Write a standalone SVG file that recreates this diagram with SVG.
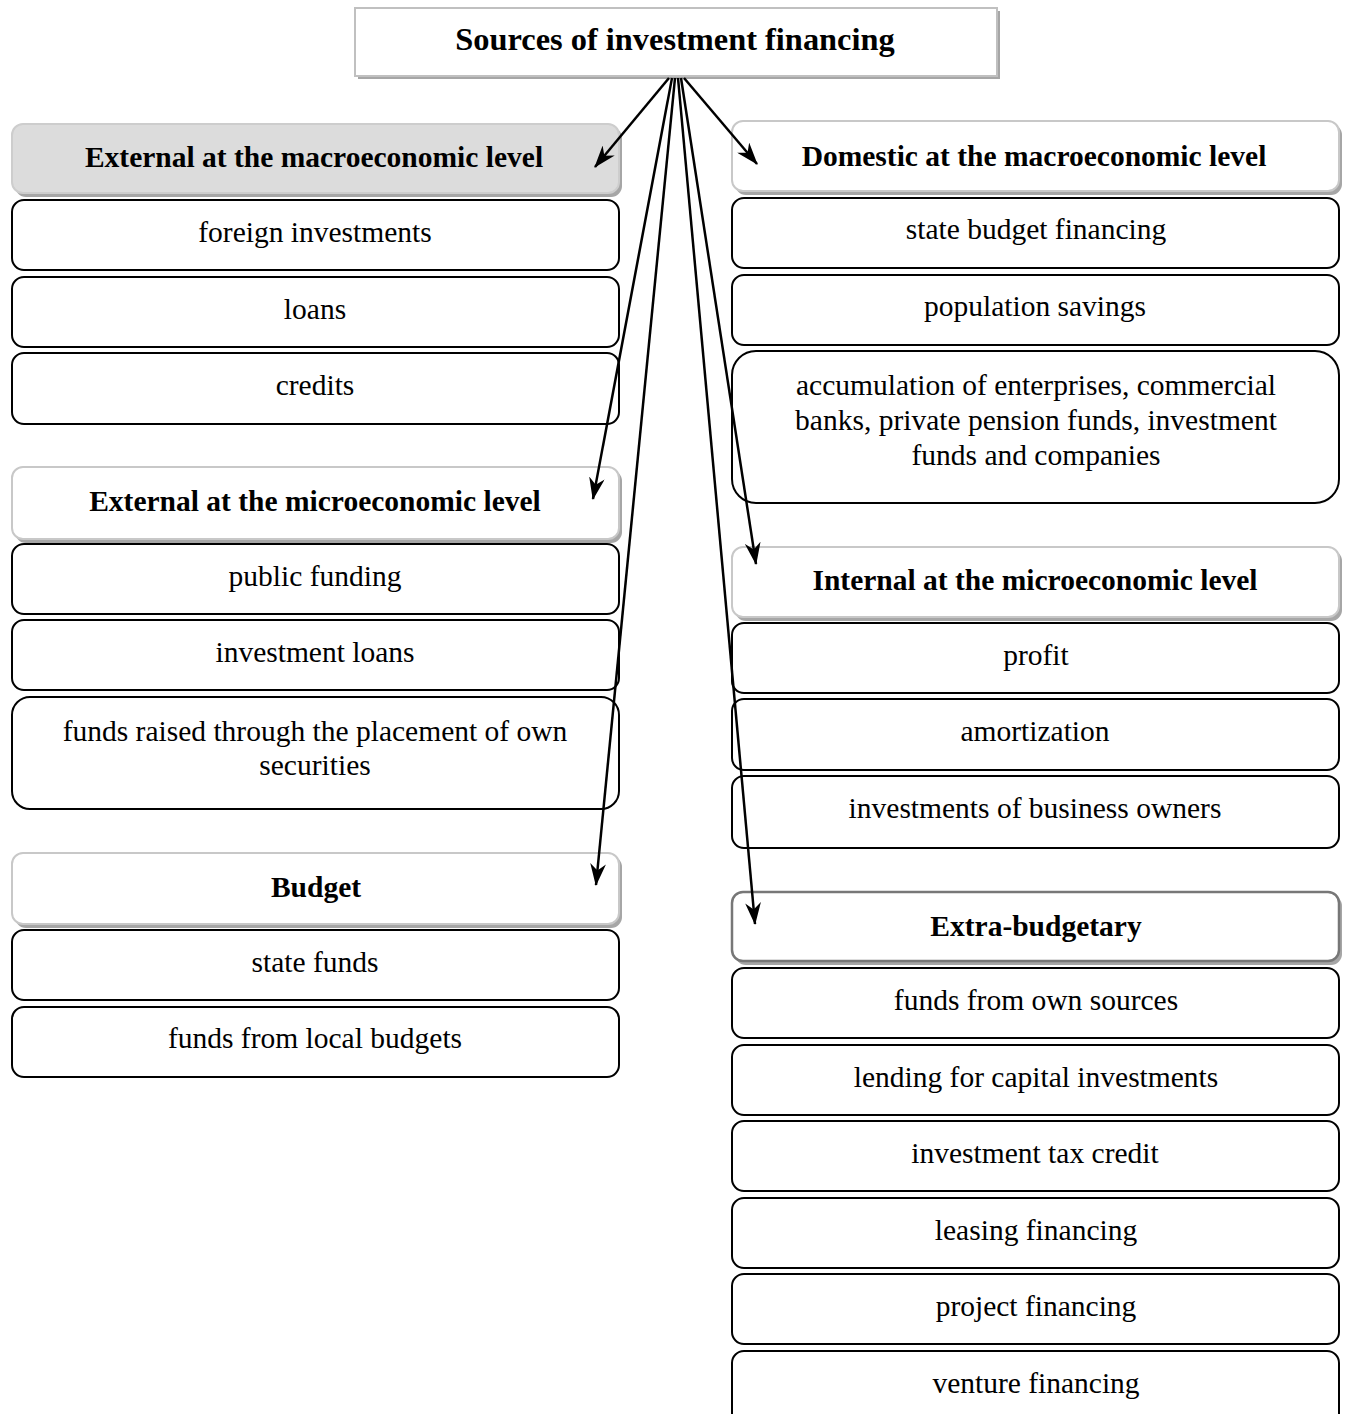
<svg xmlns="http://www.w3.org/2000/svg" width="1345" height="1414" viewBox="0 0 1345 1414">
<style>
text{font-family:"Liberation Serif","Times New Roman",serif;fill:#000;text-anchor:middle}
.it{font-size:29.5px}
.hd{font-size:29.5px;font-weight:bold}
.ttl{font-size:32.4px;font-weight:bold}
.box{fill:#fff;stroke:#000;stroke-width:2}
.hbox{fill:#fff;stroke:#c8c8c8;stroke-width:2}
.gbox{fill:#dcdcdc;stroke:#cdcdcd;stroke-width:2}
.dbox{fill:#fff;stroke:#777;stroke-width:2.5}
.sh{fill:#a6a6a6}
.con{stroke:#000;stroke-width:2.5;fill:none;marker-end:url(#ah)}
</style>
<defs>
<marker id="ah" viewBox="0 0 20 14" refX="19" refY="7" markerWidth="9" markerHeight="6.3" orient="auto" markerUnits="strokeWidth">
<path d="M0,0 L20,7 L0,14 L6,7 Z" fill="#000"/>
</marker>
</defs>
<rect width="1345" height="1414" fill="#fff"/>

<g id="root">
<rect x="358" y="11" width="642" height="68" fill="#a6a6a6"/>
<rect x="355" y="8" width="642" height="68" fill="#fff" stroke="#c0c0c0" stroke-width="2"/>
<text class="ttl" x="675" y="50">Sources of investment financing</text>
</g>

<g id="ext-macro">
<rect class="sh" x="15" y="127" width="607" height="70" rx="11"/>
<rect class="gbox" x="12" y="124" width="607" height="69" rx="11"/>
<text class="hd" x="314" y="167">External at the macroeconomic level</text>
</g>
<g id="foreign-investments"><rect class="box" x="12" y="200" width="607" height="70" rx="12"/><text class="it" x="315" y="242">foreign investments</text></g>
<g id="loans"><rect class="box" x="12" y="277" width="607" height="70" rx="12"/><text class="it" x="315" y="319">loans</text></g>
<g id="credits"><rect class="box" x="12" y="353" width="607" height="71" rx="12"/><text class="it" x="315" y="395">credits</text></g>

<g id="ext-micro">
<rect class="sh" x="15" y="470" width="607" height="73" rx="11"/>
<rect class="hbox" x="12" y="467" width="607" height="72" rx="11"/>
<text class="hd" x="315" y="511">External at the microeconomic level</text>
</g>
<g id="public-funding"><rect class="box" x="12" y="544" width="607" height="70" rx="12"/><text class="it" x="315" y="586">public funding</text></g>
<g id="investment-loans"><rect class="box" x="12" y="620" width="607" height="70" rx="12"/><text class="it" x="315" y="662">investment loans</text></g>
<g id="funds-raised"><rect class="box" x="12" y="697" width="607" height="112" rx="18"/><text class="it" x="315" y="741">funds raised through the placement of own</text><text class="it" x="315" y="775">securities</text></g>

<g id="budget">
<rect class="sh" x="15" y="856" width="607" height="72" rx="11"/>
<rect class="hbox" x="12" y="853" width="607" height="71" rx="11"/>
<text class="hd" x="316" y="897">Budget</text>
</g>
<g id="state-funds"><rect class="box" x="12" y="930" width="607" height="70" rx="12"/><text class="it" x="315" y="972">state funds</text></g>
<g id="local-budgets"><rect class="box" x="12" y="1007" width="607" height="70" rx="12"/><text class="it" x="315" y="1048">funds from local budgets</text></g>

<g id="dom-macro">
<rect class="sh" x="735" y="124" width="607" height="71" rx="11"/>
<rect class="hbox" x="732" y="121" width="607" height="70" rx="11"/>
<text class="hd" x="1034" y="166">Domestic at the macroeconomic level</text>
</g>
<g id="state-budget"><rect class="box" x="732" y="198" width="607" height="70" rx="12"/><text class="it" x="1036" y="239">state budget financing</text></g>
<g id="population-savings"><rect class="box" x="732" y="275" width="607" height="70" rx="12"/><text class="it" x="1035" y="316">population savings</text></g>
<g id="accumulation"><rect class="box" x="732" y="351" width="607" height="152" rx="24"/><text class="it" x="1036" y="395">accumulation of enterprises, commercial</text><text class="it" x="1036" y="430">banks, private pension funds, investment</text><text class="it" x="1036" y="465">funds and companies</text></g>

<g id="int-micro">
<rect class="sh" x="735" y="550" width="607" height="71" rx="11"/>
<rect class="hbox" x="732" y="547" width="607" height="70" rx="11"/>
<text class="hd" x="1035" y="590">Internal at the microeconomic level</text>
</g>
<g id="profit"><rect class="box" x="732" y="623" width="607" height="70" rx="12"/><text class="it" x="1036" y="665">profit</text></g>
<g id="amortization"><rect class="box" x="732" y="699" width="607" height="71" rx="12"/><text class="it" x="1035" y="741">amortization</text></g>
<g id="business-owners"><rect class="box" x="732" y="776" width="607" height="72" rx="12"/><text class="it" x="1035" y="818">investments of business owners</text></g>

<g id="extra-budgetary">
<rect class="sh" x="735" y="895" width="607" height="70" rx="11"/>
<rect class="dbox" x="732" y="892" width="607" height="69" rx="11"/>
<text class="hd" x="1036" y="936">Extra-budgetary</text>
</g>
<g id="own-sources"><rect class="box" x="732" y="968" width="607" height="70" rx="12"/><text class="it" x="1036" y="1010">funds from own sources</text></g>
<g id="lending"><rect class="box" x="732" y="1045" width="607" height="70" rx="12"/><text class="it" x="1036" y="1087">lending for capital investments</text></g>
<g id="tax-credit"><rect class="box" x="732" y="1121" width="607" height="70" rx="12"/><text class="it" x="1035" y="1163">investment tax credit</text></g>
<g id="leasing"><rect class="box" x="732" y="1198" width="607" height="70" rx="12"/><text class="it" x="1036" y="1240">leasing financing</text></g>
<g id="project"><rect class="box" x="732" y="1274" width="607" height="70" rx="12"/><text class="it" x="1036" y="1316">project financing</text></g>
<g id="venture"><rect class="box" x="732" y="1351" width="607" height="75" rx="12"/><text class="it" x="1036" y="1393">venture financing</text></g>

<g id="connectors">
<line class="con" x1="669" y1="78" x2="595" y2="167"/>
<line class="con" x1="672" y1="78" x2="593" y2="499"/>
<line class="con" x1="675" y1="78" x2="596" y2="885"/>
<line class="con" x1="678" y1="78" x2="755" y2="924"/>
<line class="con" x1="681" y1="78" x2="756" y2="564"/>
<line class="con" x1="684" y1="78" x2="757" y2="164"/>
</g>
</svg>
